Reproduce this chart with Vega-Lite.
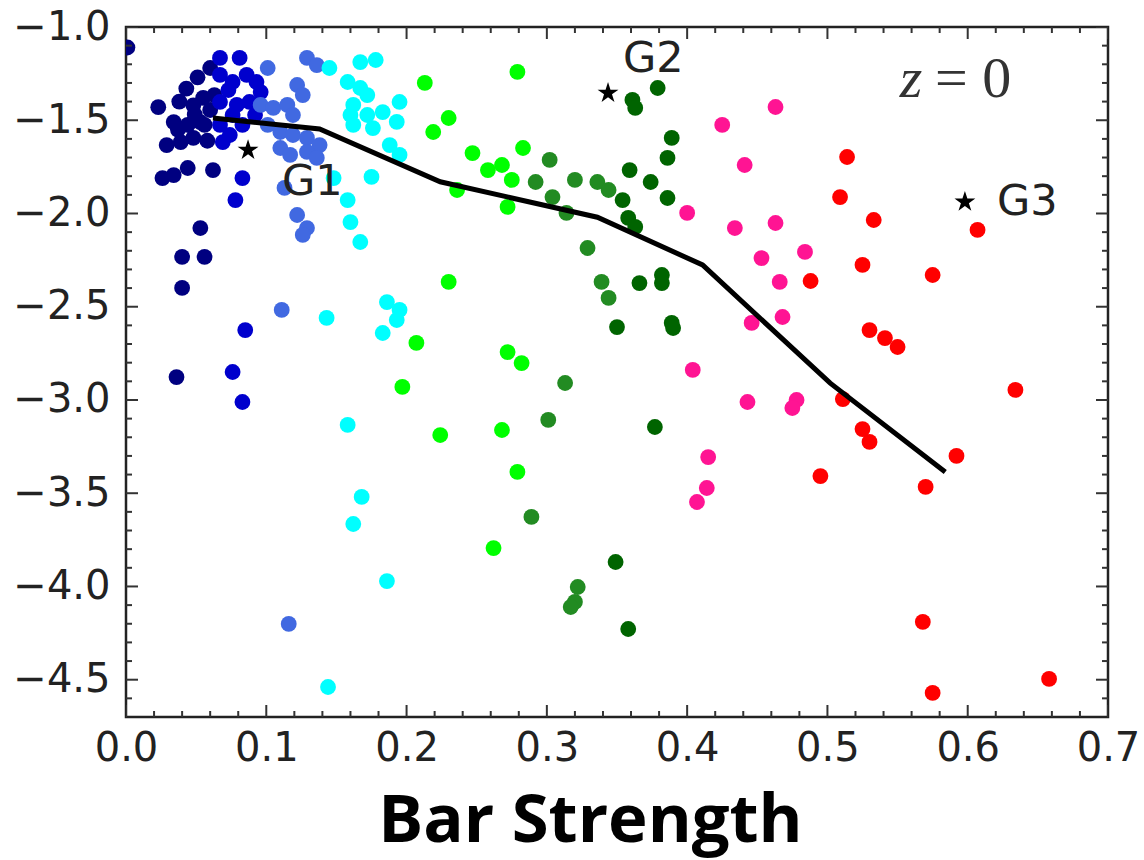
{
  "$schema": "https://vega.github.io/schema/vega-lite/v6.json",
  "width": 982,
  "height": 690,
  "autosize": {"type": "none"},
  "padding": {"left": 126, "top": 27, "right": 36, "bottom": 143},
  "background": "white",
  "config": {
    "view": {"stroke": "#222", "strokeWidth": 2.5},
    "axis": {"domain": false, "grid": false, "ticks": false, "labelFont": "DejaVu Sans", "labelFontSize": 40, "labelColor": "#222", "labelFlush": false}
  },
  "datasets": {
    "pts": [
      {"x":0.001,"y":-1.11,"g":"a"},{"x":0.023,"y":-1.43,"g":"a"},{"x":0.043,"y":-1.33,"g":"a"},{"x":0.051,"y":-1.27,"g":"a"},{"x":0.060,"y":-1.22,"g":"a"},{"x":0.038,"y":-1.40,"g":"a"},{"x":0.048,"y":-1.42,"g":"a"},{"x":0.055,"y":-1.38,"g":"a"},{"x":0.034,"y":-1.51,"g":"a"},{"x":0.044,"y":-1.525,"g":"a"},{"x":0.053,"y":-1.51,"g":"a"},{"x":0.029,"y":-1.633,"g":"a"},{"x":0.039,"y":-1.617,"g":"a"},{"x":0.048,"y":-1.595,"g":"a"},{"x":0.056,"y":-1.525,"g":"a"},{"x":0.026,"y":-1.81,"g":"a"},{"x":0.034,"y":-1.794,"g":"a"},{"x":0.044,"y":-1.756,"g":"a"},{"x":0.062,"y":-1.767,"g":"a"},{"x":0.053,"y":-2.078,"g":"a"},{"x":0.040,"y":-2.233,"g":"a"},{"x":0.056,"y":-2.233,"g":"a"},{"x":0.040,"y":-2.399,"g":"a"},{"x":0.036,"y":-2.877,"g":"a"},{"x":0.049,"y":-1.47,"g":"a"},{"x":0.060,"y":-1.445,"g":"a"},{"x":0.037,"y":-1.55,"g":"a"},{"x":0.058,"y":-1.61,"g":"a"},{"x":0.063,"y":-1.365,"g":"a"},
      {"x":0.067,"y":-1.166,"g":"b"},{"x":0.081,"y":-1.166,"g":"b"},{"x":0.067,"y":-1.257,"g":"b"},{"x":0.076,"y":-1.295,"g":"b"},{"x":0.086,"y":-1.257,"g":"b"},{"x":0.093,"y":-1.295,"g":"b"},{"x":0.096,"y":-1.349,"g":"b"},{"x":0.067,"y":-1.402,"g":"b"},{"x":0.079,"y":-1.418,"g":"b"},{"x":0.088,"y":-1.402,"g":"b"},{"x":0.067,"y":-1.525,"g":"b"},{"x":0.074,"y":-1.579,"g":"b"},{"x":0.083,"y":-1.525,"g":"b"},{"x":0.069,"y":-1.617,"g":"b"},{"x":0.083,"y":-1.81,"g":"b"},{"x":0.078,"y":-1.928,"g":"b"},{"x":0.085,"y":-2.625,"g":"b"},{"x":0.076,"y":-2.85,"g":"b"},{"x":0.083,"y":-3.011,"g":"b"},{"x":0.076,"y":-1.472,"g":"b"},{"x":0.092,"y":-1.472,"g":"b"},{"x":0.073,"y":-1.338,"g":"b"},
      {"x":0.101,"y":-1.22,"g":"c"},{"x":0.129,"y":-1.166,"g":"c"},{"x":0.136,"y":-1.204,"g":"c"},{"x":0.122,"y":-1.311,"g":"c"},{"x":0.126,"y":-1.365,"g":"c"},{"x":0.096,"y":-1.418,"g":"c"},{"x":0.105,"y":-1.434,"g":"c"},{"x":0.115,"y":-1.418,"g":"c"},{"x":0.119,"y":-1.472,"g":"c"},{"x":0.101,"y":-1.525,"g":"c"},{"x":0.110,"y":-1.563,"g":"c"},{"x":0.119,"y":-1.579,"g":"c"},{"x":0.129,"y":-1.595,"g":"c"},{"x":0.138,"y":-1.633,"g":"c"},{"x":0.110,"y":-1.649,"g":"c"},{"x":0.117,"y":-1.686,"g":"c"},{"x":0.129,"y":-1.670,"g":"c"},{"x":0.136,"y":-1.702,"g":"c"},{"x":0.113,"y":-1.863,"g":"c"},{"x":0.122,"y":-2.008,"g":"c"},{"x":0.129,"y":-2.078,"g":"c"},{"x":0.126,"y":-2.115,"g":"c"},{"x":0.111,"y":-2.517,"g":"c"},{"x":0.116,"y":-4.201,"g":"c"},
      {"x":0.145,"y":-1.22,"g":"d"},{"x":0.167,"y":-1.188,"g":"d"},{"x":0.178,"y":-1.177,"g":"d"},{"x":0.158,"y":-1.295,"g":"d"},{"x":0.167,"y":-1.327,"g":"d"},{"x":0.172,"y":-1.365,"g":"d"},{"x":0.162,"y":-1.418,"g":"d"},{"x":0.195,"y":-1.402,"g":"d"},{"x":0.160,"y":-1.472,"g":"d"},{"x":0.172,"y":-1.472,"g":"d"},{"x":0.183,"y":-1.456,"g":"d"},{"x":0.193,"y":-1.509,"g":"d"},{"x":0.162,"y":-1.525,"g":"d"},{"x":0.176,"y":-1.542,"g":"d"},{"x":0.188,"y":-1.633,"g":"d"},{"x":0.195,"y":-1.686,"g":"d"},{"x":0.148,"y":-1.81,"g":"d"},{"x":0.175,"y":-1.804,"g":"d"},{"x":0.158,"y":-1.928,"g":"d"},{"x":0.160,"y":-2.046,"g":"d"},{"x":0.167,"y":-2.153,"g":"d"},{"x":0.186,"y":-2.475,"g":"d"},{"x":0.195,"y":-2.517,"g":"d"},{"x":0.193,"y":-2.571,"g":"d"},{"x":0.183,"y":-2.641,"g":"d"},{"x":0.143,"y":-2.56,"g":"d"},{"x":0.158,"y":-3.134,"g":"d"},{"x":0.168,"y":-3.52,"g":"d"},{"x":0.162,"y":-3.665,"g":"d"},{"x":0.186,"y":-3.971,"g":"d"},{"x":0.144,"y":-4.539,"g":"d"},
      {"x":0.213,"y":-1.30,"g":"e"},{"x":0.230,"y":-1.488,"g":"e"},{"x":0.219,"y":-1.563,"g":"e"},{"x":0.230,"y":-2.367,"g":"e"},{"x":0.207,"y":-2.694,"g":"e"},{"x":0.279,"y":-1.241,"g":"e"},{"x":0.247,"y":-1.676,"g":"e"},{"x":0.283,"y":-1.649,"g":"e"},{"x":0.258,"y":-1.767,"g":"e"},{"x":0.268,"y":-1.740,"g":"e"},{"x":0.275,"y":-1.82,"g":"e"},{"x":0.236,"y":-1.874,"g":"e"},{"x":0.272,"y":-1.965,"g":"e"},{"x":0.272,"y":-2.743,"g":"e"},{"x":0.282,"y":-2.802,"g":"e"},{"x":0.197,"y":-2.93,"g":"e"},{"x":0.224,"y":-3.188,"g":"e"},{"x":0.268,"y":-3.161,"g":"e"},{"x":0.279,"y":-3.386,"g":"e"},{"x":0.262,"y":-3.794,"g":"e"},
      {"x":0.302,"y":-1.713,"g":"f"},{"x":0.292,"y":-1.831,"g":"f"},{"x":0.304,"y":-1.912,"g":"f"},{"x":0.320,"y":-1.82,"g":"f"},{"x":0.336,"y":-1.831,"g":"f"},{"x":0.344,"y":-1.874,"g":"f"},{"x":0.314,"y":-1.997,"g":"f"},{"x":0.329,"y":-2.185,"g":"f"},{"x":0.339,"y":-2.367,"g":"f"},{"x":0.344,"y":-2.453,"g":"f"},{"x":0.313,"y":-2.909,"g":"f"},{"x":0.301,"y":-3.107,"g":"f"},{"x":0.289,"y":-3.627,"g":"f"},{"x":0.322,"y":-4.003,"g":"f"},{"x":0.320,"y":-4.083,"g":"f"},{"x":0.317,"y":-4.11,"g":"f"},
      {"x":0.379,"y":-1.327,"g":"h"},{"x":0.361,"y":-1.391,"g":"h"},{"x":0.363,"y":-1.434,"g":"h"},{"x":0.389,"y":-1.595,"g":"h"},{"x":0.386,"y":-1.702,"g":"h"},{"x":0.359,"y":-1.767,"g":"h"},{"x":0.374,"y":-1.831,"g":"h"},{"x":0.354,"y":-1.928,"g":"h"},{"x":0.386,"y":-1.917,"g":"h"},{"x":0.358,"y":-2.024,"g":"h"},{"x":0.363,"y":-2.072,"g":"h"},{"x":0.366,"y":-2.373,"g":"h"},{"x":0.382,"y":-2.33,"g":"h"},{"x":0.382,"y":-2.373,"g":"h"},{"x":0.350,"y":-2.609,"g":"h"},{"x":0.389,"y":-2.587,"g":"h"},{"x":0.390,"y":-2.614,"g":"h"},{"x":0.377,"y":-3.145,"g":"h"},{"x":0.349,"y":-3.869,"g":"h"},{"x":0.358,"y":-4.228,"g":"h"},
      {"x":0.463,"y":-1.429,"g":"p"},{"x":0.425,"y":-1.525,"g":"p"},{"x":0.441,"y":-1.74,"g":"p"},{"x":0.400,"y":-1.997,"g":"p"},{"x":0.434,"y":-2.078,"g":"p"},{"x":0.463,"y":-2.051,"g":"p"},{"x":0.453,"y":-2.239,"g":"p"},{"x":0.466,"y":-2.367,"g":"p"},{"x":0.446,"y":-2.587,"g":"p"},{"x":0.404,"y":-2.839,"g":"p"},{"x":0.484,"y":-2.206,"g":"p"},{"x":0.468,"y":-2.555,"g":"p"},{"x":0.443,"y":-3.011,"g":"p"},{"x":0.415,"y":-3.306,"g":"p"},{"x":0.414,"y":-3.472,"g":"p"},{"x":0.407,"y":-3.547,"g":"p"},{"x":0.478,"y":-3.0,"g":"p"},{"x":0.475,"y":-3.043,"g":"p"},
      {"x":0.514,"y":-1.697,"g":"r"},{"x":0.509,"y":-1.912,"g":"r"},{"x":0.533,"y":-2.035,"g":"r"},{"x":0.607,"y":-2.088,"g":"r"},{"x":0.525,"y":-2.276,"g":"r"},{"x":0.488,"y":-2.362,"g":"r"},{"x":0.575,"y":-2.33,"g":"r"},{"x":0.530,"y":-2.625,"g":"r"},{"x":0.541,"y":-2.668,"g":"r"},{"x":0.550,"y":-2.716,"g":"r"},{"x":0.511,"y":-2.995,"g":"r"},{"x":0.525,"y":-3.156,"g":"r"},{"x":0.530,"y":-3.225,"g":"r"},{"x":0.495,"y":-3.408,"g":"r"},{"x":0.570,"y":-3.466,"g":"r"},{"x":0.592,"y":-3.30,"g":"r"},{"x":0.634,"y":-2.946,"g":"r"},{"x":0.568,"y":-4.19,"g":"r"},{"x":0.575,"y":-4.571,"g":"r"},{"x":0.658,"y":-4.496,"g":"r"}
    ],
    "xticks": [
      {"v":0.0,"k":"M"},{"v":0.02,"k":"m"},{"v":0.04,"k":"m"},{"v":0.06,"k":"m"},{"v":0.08,"k":"m"},
      {"v":0.1,"k":"M"},{"v":0.12,"k":"m"},{"v":0.14,"k":"m"},{"v":0.16,"k":"m"},{"v":0.18,"k":"m"},
      {"v":0.2,"k":"M"},{"v":0.22,"k":"m"},{"v":0.24,"k":"m"},{"v":0.26,"k":"m"},{"v":0.28,"k":"m"},
      {"v":0.3,"k":"M"},{"v":0.32,"k":"m"},{"v":0.34,"k":"m"},{"v":0.36,"k":"m"},{"v":0.38,"k":"m"},
      {"v":0.4,"k":"M"},{"v":0.42,"k":"m"},{"v":0.44,"k":"m"},{"v":0.46,"k":"m"},{"v":0.48,"k":"m"},
      {"v":0.5,"k":"M"},{"v":0.52,"k":"m"},{"v":0.54,"k":"m"},{"v":0.56,"k":"m"},{"v":0.58,"k":"m"},
      {"v":0.6,"k":"M"},{"v":0.62,"k":"m"},{"v":0.64,"k":"m"},{"v":0.66,"k":"m"},{"v":0.68,"k":"m"},
      {"v":0.7,"k":"M"}
    ],
    "yticks": [
      {"v":-4.6,"k":"m"},{"v":-4.5,"k":"M"},{"v":-4.4,"k":"m"},{"v":-4.3,"k":"m"},{"v":-4.2,"k":"m"},{"v":-4.1,"k":"m"},
      {"v":-4.0,"k":"M"},{"v":-3.9,"k":"m"},{"v":-3.8,"k":"m"},{"v":-3.7,"k":"m"},{"v":-3.6,"k":"m"},
      {"v":-3.5,"k":"M"},{"v":-3.4,"k":"m"},{"v":-3.3,"k":"m"},{"v":-3.2,"k":"m"},{"v":-3.1,"k":"m"},
      {"v":-3.0,"k":"M"},{"v":-2.9,"k":"m"},{"v":-2.8,"k":"m"},{"v":-2.7,"k":"m"},{"v":-2.6,"k":"m"},
      {"v":-2.5,"k":"M"},{"v":-2.4,"k":"m"},{"v":-2.3,"k":"m"},{"v":-2.2,"k":"m"},{"v":-2.1,"k":"m"},
      {"v":-2.0,"k":"M"},{"v":-1.9,"k":"m"},{"v":-1.8,"k":"m"},{"v":-1.7,"k":"m"},{"v":-1.6,"k":"m"},
      {"v":-1.5,"k":"M"},{"v":-1.4,"k":"m"},{"v":-1.3,"k":"m"},{"v":-1.2,"k":"m"},{"v":-1.1,"k":"m"},
      {"v":-1.0,"k":"M"}
    ]
  },
  "layer": [
    {
      "data": {"name": "pts"},
      "mark": {"type": "circle", "size": 250, "opacity": 1, "clip": true},
      "encoding": {
        "x": {"field": "x", "type": "quantitative", "scale": {"domain": [0, 0.7], "nice": false, "zero": false},
          "axis": {"values": [0,0.1,0.2,0.3,0.4,0.5,0.6,0.7], "format": ".1f", "labelPadding": 11,
            "title": "Bar Strength", "titleFont": "Open Sans", "titleFontWeight": "bold", "titleFontSize": 67, "titleColor": "black",
            "titleX": 464, "titleY": 124, "titleAlign": "center", "titleBaseline": "alphabetic"}},
        "y": {"field": "y", "type": "quantitative", "scale": {"domain": [-4.7, -1.0], "nice": false, "zero": false},
          "axis": {"values": [-4.5,-4.0,-3.5,-3.0,-2.5,-2.0,-1.5,-1.0], "format": ".1f", "labelPadding": 16, "title": null}},
        "color": {"field": "g", "type": "nominal", "legend": null,
          "scale": {"domain": ["a","b","c","d","e","f","h","p","r"], "range": ["#000080","#0000cd","#4169e1","#00ffff","#00ff00","#228b22","#006400","#ff1493","#ff0000"]}}
      }
    },
    {
      "data": {"values": [
        {"x":0.062,"y":-1.488},{"x":0.138,"y":-1.547},{"x":0.224,"y":-1.83},{"x":0.336,"y":-2.02},{"x":0.411,"y":-2.276},{"x":0.502,"y":-2.91},{"x":0.584,"y":-3.386}
      ]},
      "mark": {"type": "line", "color": "black", "strokeWidth": 5},
      "encoding": {
        "x": {"field": "x", "type": "quantitative"},
        "y": {"field": "y", "type": "quantitative"}
      }
    },
    {
      "data": {"values": [
        {"x":0.087,"y":-1.66},{"x":0.3436,"y":-1.354},{"x":0.598,"y":-1.938}
      ]},
      "mark": {"type": "point", "shape": "M0,-1L0.2245,-0.309L0.951,-0.309L0.363,0.118L0.588,0.809L0,0.382L-0.588,0.809L-0.363,0.118L-0.951,-0.309L-0.2245,-0.309Z", "filled": true, "color": "black", "size": 480, "opacity": 1},
      "encoding": {
        "x": {"field": "x", "type": "quantitative"},
        "y": {"field": "y", "type": "quantitative"}
      }
    },
    {
      "data": {"values": [
        {"x":0.1112,"y":-1.831,"t":"G1"},{"x":0.3543,"y":-1.172,"t":"G2"},{"x":0.6209,"y":-1.938,"t":"G3"}
      ]},
      "mark": {"type": "text", "align": "left", "baseline": "middle", "font": "DejaVu Sans", "fontSize": 43, "color": "#222"},
      "encoding": {
        "x": {"field": "x", "type": "quantitative"},
        "y": {"field": "y", "type": "quantitative"},
        "text": {"field": "t"}
      }
    },
    {
      "data": {"values": [{"x":0.5596,"y":-1.375,"t":"z"}]},
      "mark": {"type": "text", "align": "center", "baseline": "alphabetic", "font": "Liberation Serif", "fontStyle": "italic", "fontSize": 58, "color": "#333"},
      "encoding": {
        "x": {"field": "x", "type": "quantitative"},
        "y": {"field": "y", "type": "quantitative"},
        "text": {"field": "t"}
      }
    },
    {
      "data": {"values": [{"x":0.5767,"y":-1.375,"t":"= 0"}]},
      "mark": {"type": "text", "align": "left", "baseline": "alphabetic", "font": "Liberation Serif", "fontSize": 58, "color": "#333"},
      "encoding": {
        "x": {"field": "x", "type": "quantitative"},
        "y": {"field": "y", "type": "quantitative"},
        "text": {"field": "t"}
      }
    },
    {
      "data": {"name": "xticks"},
      "mark": {"type": "tick", "orient": "vertical", "clip": true, "color": "#333", "thickness": 2, "opacity": 1},
      "encoding": {
        "x": {"field": "v", "type": "quantitative"},
        "y": {"datum": -4.7, "type": "quantitative"},
        "size": {"condition": {"test": "datum.k === 'M'", "value": 24}, "value": 12}
      }
    },
    {
      "data": {"name": "xticks"},
      "mark": {"type": "tick", "orient": "vertical", "clip": true, "color": "#333", "thickness": 2, "opacity": 1},
      "encoding": {
        "x": {"field": "v", "type": "quantitative"},
        "y": {"datum": -1.0, "type": "quantitative"},
        "size": {"condition": {"test": "datum.k === 'M'", "value": 24}, "value": 12}
      }
    },
    {
      "data": {"name": "yticks"},
      "mark": {"type": "tick", "orient": "horizontal", "clip": true, "color": "#333", "thickness": 2, "opacity": 1},
      "encoding": {
        "y": {"field": "v", "type": "quantitative"},
        "x": {"datum": 0, "type": "quantitative"},
        "size": {"condition": {"test": "datum.k === 'M'", "value": 24}, "value": 12}
      }
    },
    {
      "data": {"name": "yticks"},
      "mark": {"type": "tick", "orient": "horizontal", "clip": true, "color": "#333", "thickness": 2, "opacity": 1},
      "encoding": {
        "y": {"field": "v", "type": "quantitative"},
        "x": {"datum": 0.7, "type": "quantitative"},
        "size": {"condition": {"test": "datum.k === 'M'", "value": 24}, "value": 12}
      }
    }
  ]
}
